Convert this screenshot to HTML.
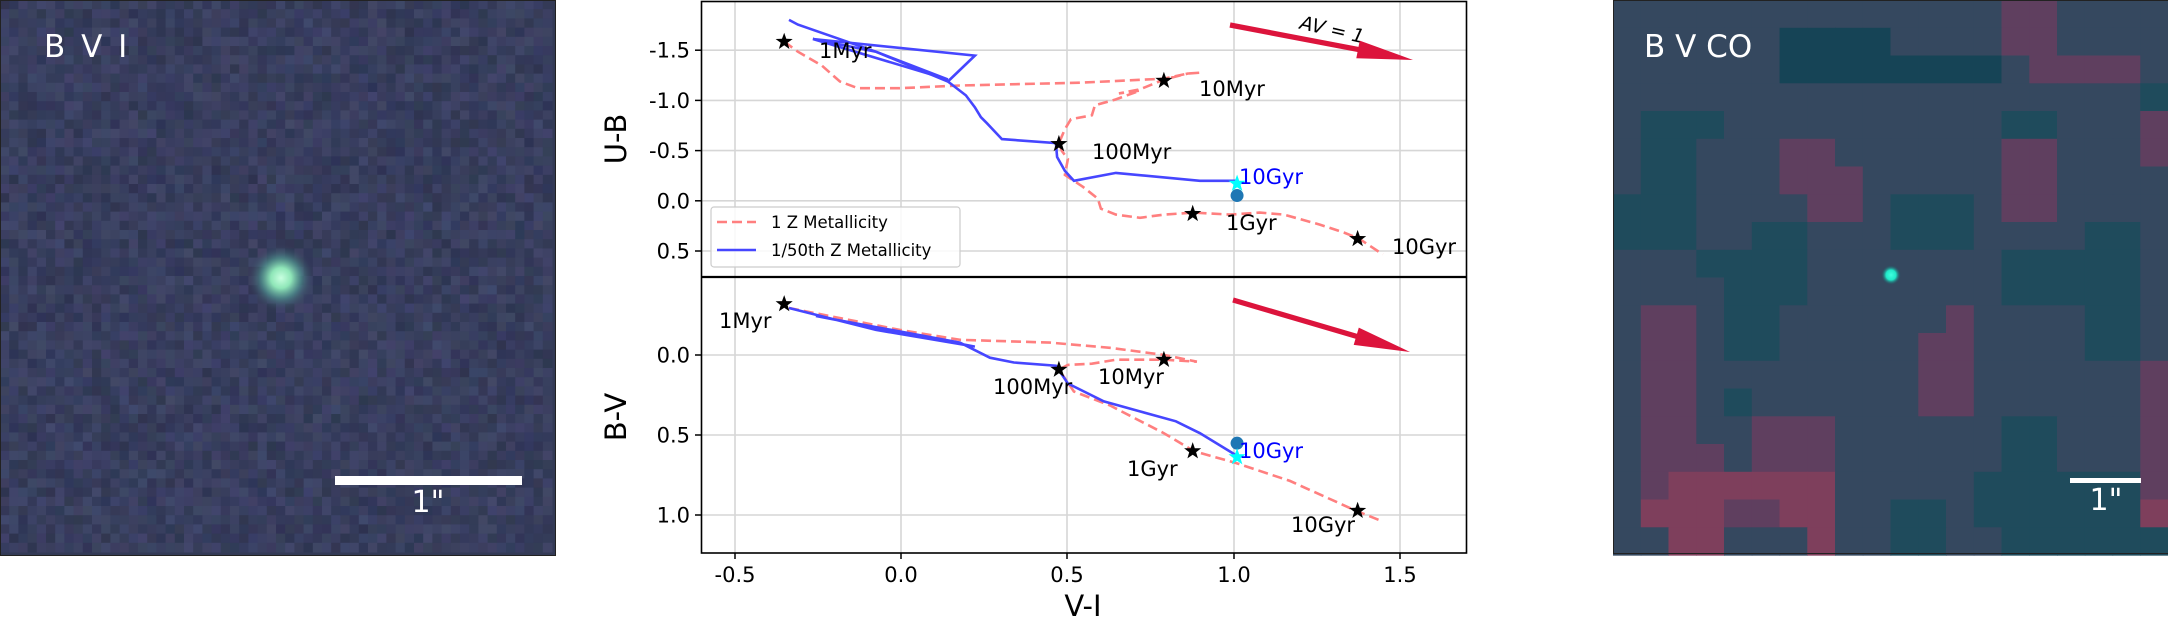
<!DOCTYPE html>
<html><head><meta charset="utf-8"><style>
html,body{margin:0;padding:0;background:#fff;}
svg{display:block;font-family:"DejaVu Sans","Liberation Sans",sans-serif;}
</style></head><body>
<svg id="s" width="2168" height="623" viewBox="0 0 2168 623" xmlns="http://www.w3.org/2000/svg">
<defs>
<radialGradient id="src" cx="0.5" cy="0.5" r="0.5">
<stop offset="0" stop-color="#c8ffe0"/><stop offset="0.3" stop-color="#8fe6b8"/><stop offset="0.6" stop-color="#4d8a8a" stop-opacity="0.8"/><stop offset="1" stop-color="#343a58" stop-opacity="0"/>
</radialGradient>
<radialGradient id="src2" cx="0.5" cy="0.5" r="0.5">
<stop offset="0" stop-color="#40ffe0"/><stop offset="0.5" stop-color="#20e8c8"/><stop offset="1" stop-color="#1f4b5c" stop-opacity="0"/>
</radialGradient>
</defs>
<g id="left"></g>
<g id="right"></g>
<g id="chart"></g>
<text x="44" y="57" font-size="31" fill="#fff" font-family="DejaVu Sans,sans-serif" letter-spacing="3">B V I</text>
<rect x="335" y="476" width="187" height="9" fill="#fff"/>
<text x="428" y="512" font-size="30" fill="#fff" text-anchor="middle">1"</text>
<text x="1644" y="57" font-size="31" fill="#fff">B V CO</text>
<rect x="2070" y="478" width="71" height="5" fill="#fff"/>
<text x="2106" y="510" font-size="30" fill="#fff" text-anchor="middle">1"</text>
</svg>
<script>
(function(){
var NS="http://www.w3.org/2000/svg";
function el(p,t,a,txt){var e=document.createElementNS(NS,t);for(var k in a)e.setAttribute(k,a[k]);if(txt!=null)e.textContent=txt;p.appendChild(e);return e;}
// left image
var L=document.getElementById('left');
el(L,'rect',{x:0,y:0,width:556,height:556,fill:'#333a56'});
var seed=7;function rnd(){seed=(seed*16807)%2147483647;return seed/2147483647;}
var cs=9.2;
for(var i=0;i<60;i++)for(var j=0;j<60;j++){var v=rnd();var r=Math.round(44+v*18+rnd()*6),g=Math.round(50+v*16+rnd()*8),b=Math.round(78+v*22+rnd()*10);
el(L,'rect',{x:(i*cs).toFixed(1),y:(j*cs).toFixed(1),width:cs+0.5,height:cs+0.5,fill:'rgb('+r+','+g+','+b+')'});}
el(L,'circle',{cx:281,cy:278,r:34,fill:'url(#src)'});
el(L,'rect',{x:0.5,y:0.5,width:555,height:555,fill:'none',stroke:'#222',"stroke-width":1});
// right image
var R=document.getElementById('right');
var map=["MMMMMMMMMMMMMMRRMMMM","MMMMMMDDDDMMMMRRMMMM","MMMMMMDDDDDDDDMRRRRM","MMMMMMMMMMMMMMMMMMMT","MTTTMMMMMMMMMMTTMMMR","MTTMMMRRMMMMMMRRMMMR","MTTMMMRRRMMMMMRRMMMM","TTTMMMMRRMTTTMRRMMMM","TTTMMTTMMMTTTMMMMTTM","MMMTTTTMMMMMMMTTTTTM","MMMMTTTMMMMMMMTTTTTM","MRRMTTMMMMMMRMMMMTTM","MRRMTTMMMMMRRMMMMTTM","MRRMMMMMMMMRRMMMMMMR","MRRMTMMMMMMRRMMMMMMR","MRRMMRRRMMMMMMTTMMMR","MRRRMRRRMMMMMMTTMMMR","MRrrrrrrMMMMMTTTTTTR","MrrrRRrrMMTTMTTTTTTr","MMrrMMMrMMTTMMTTTTTT"];
var col={M:'#35485f',T:'#1f4b5c',D:'#164456',R:'#5f3f5f',r:'#7e3f5c'};
var x0=1613,cw=27.75;
for(var j=0;j<20;j++)for(var i=0;i<20;i++){el(R,'rect',{x:(x0+i*cw).toFixed(1),y:(j*cw).toFixed(1),width:cw+0.6,height:cw+0.6,fill:col[map[j][i]]});}
el(R,'circle',{cx:1891,cy:275,r:10,fill:'url(#src2)'});
el(R,'rect',{x:1613.5,y:0.5,width:560,height:553,fill:'none',stroke:'#222',"stroke-width":1});
// chart
var C=document.getElementById('chart');
el(C,'rect',{x:701,y:1,width:766,height:552,fill:'#fff'});
function X(zx){return 540+zx/1.667;}function Y(zy){return zy/2.516;}
var xs=[[-0.5,735],[0,901],[0.5,1067],[1,1234],[1.5,1400]];
xs.forEach(function(t){el(C,'line',{x1:t[1],y1:1,x2:t[1],y2:553,stroke:'#d6d6d6','stroke-width':1.6});
el(C,'line',{x1:t[1],y1:553,x2:t[1],y2:559,stroke:'#000','stroke-width':1.5});
el(C,'text',{x:t[1],y:582,'font-size':21,'text-anchor':'middle'},t[0].toFixed(1));});
var yt=[["-1.5",50.2],["-1.0",100.4],["-0.5",150.6],["0.0",200.8],["0.5",251]];
var yb=[["0.0",355],["0.5",435],["1.0",515]];
yt.concat(yb).forEach(function(t){el(C,'line',{x1:701,y1:t[1],x2:1467,y2:t[1],stroke:'#d6d6d6','stroke-width':1.6});
el(C,'line',{x1:695,y1:t[1],x2:701,y2:t[1],stroke:'#000','stroke-width':1.5});
el(C,'text',{x:690,y:t[1]+7.5,'font-size':21,'text-anchor':'end'},t[0]);});
function path(pts,attrs){var d=pts.map(function(p,i){return (i?'L':'M')+X(p[0]).toFixed(1)+' '+Y(p[1]).toFixed(1);}).join(' ');attrs.d=d;attrs.fill='none';el(C,'path',attrs);}
var red={stroke:'#ff7f7f','stroke-width':2.6,'stroke-dasharray':'10,5'};
var blue={stroke:'#4646ff','stroke-width':2.6};
// top red
path([[407,105],[430,130],[470,165],[500,205],[530,222],[600,222],[700,215],[900,208],[1040,198],[1080,185],[1100,183],[1080,185],[1040,200],[1000,225],[965,235],[1000,228],[960,250],[925,265],[920,290],[885,300],[875,325],[865,360],[870,380],[880,400],[875,440],[905,470],[930,500],[935,525],[960,540],[1000,548],[1040,540],[1090,535],[1150,540],[1200,535],[1240,540],[1300,565],[1340,585],[1365,600],[1405,640]],red);
// top blue
path([[415,50],[430,62],[560,130],[680,205]],blue);
path([[455,98],[560,130],[680,200],[455,98],[725,140],[680,205]],blue);
path([[680,205],[710,240],[725,270],[735,295],[745,310],[770,350],[860,360],[862,395],[875,430],[890,455],[960,435],[1100,455],[1160,455]],blue);
// bottom red
path([[415,775],[600,830],[700,855],[850,862],[950,875],[1040,893],[1095,910],[1040,905],[960,905],[920,915],[880,918],[865,930],[890,985],[950,1020],[1040,1090],[1090,1135],[1160,1165],[1250,1210],[1360,1285],[1405,1312]],red);
// bottom blue
path([[415,775],[560,830],[725,872],[460,795],[700,862],[750,900],[790,912],[860,920],[880,965],[940,1010],[1000,1035],[1060,1060],[1100,1090],[1160,1145]],blue);
function star(zx,zy,r,fill){var cx=X(zx),cy=Y(zy),pts=[];for(var k=0;k<10;k++){var a=-Math.PI/2+k*Math.PI/5,rr=k%2?r*0.4:r;pts.push((cx+rr*Math.cos(a)).toFixed(1)+','+(cy+rr*Math.sin(a)).toFixed(1));}el(C,'polygon',{points:pts.join(' '),fill:fill});}
[[407,105],[1040,203],[865,362],[1088,538],[1363,601],[407,765],[865,930],[1040,905],[1088,1135],[1363,1285]].forEach(function(p){star(p[0],p[1],9,'#000');});
el(C,'circle',{cx:X(1162),cy:Y(492),r:6.5,fill:'#1f77b4'});
star(1162,462,9,'#00ffff');
el(C,'circle',{cx:X(1162),cy:Y(1115),r:6.5,fill:'#1f77b4'});
star(1162,1150,9,'#00ffff');
// arrows
function arrow(x1,y1,x2,y2){var dx=x2-x1,dy=y2-y1,l=Math.hypot(dx,dy),ux=dx/l,uy=dy/l,nx=-uy,ny=ux,hl=56,hw=9,w=2.6;
var bx=x2-ux*hl,by=y2-uy*hl;
var p=[[x1+nx*w,y1+ny*w],[bx+nx*w,by+ny*w],[bx+nx*hw,by+ny*hw],[x2,y2],[bx-nx*hw,by-ny*hw],[bx-nx*w,by-ny*w],[x1-nx*w,y1-ny*w]];
el(C,'polygon',{points:p.map(function(q){return q[0].toFixed(1)+','+q[1].toFixed(1);}).join(' '),fill:'#dc143c'});}
arrow(1230,25,1413,60);
arrow(1233,300,1410,352);
el(C,'text',{x:1332,y:36,'font-size':19,'font-style':'italic','text-anchor':'middle',transform:'rotate(13 1332 30)'},'AV = 1');
// labels
function lab(x,y,t,c,fs){el(C,'text',{x:x,y:y,'font-size':fs||21,fill:c||'#000'},t);}
lab(819,58,'1Myr');lab(1199,96,'10Myr');lab(1092,159,'100Myr');lab(1239,184,'10Gyr','#0000ff');lab(1226,230,'1Gyr');lab(1392,254,'10Gyr');
lab(719,328,'1Myr');lab(993,394,'100Myr');lab(1098,384,'10Myr');lab(1239,458,'10Gyr','#0000ff');lab(1127,476,'1Gyr');lab(1291,532,'10Gyr');
// legend
el(C,'rect',{x:711,y:207,width:249,height:60,rx:3,fill:'#fff','fill-opacity':0.85,stroke:'#ccc','stroke-width':1.2});
el(C,'line',{x1:717,y1:222,x2:756,y2:222,stroke:'#ff7f7f','stroke-width':2.6,'stroke-dasharray':'10,5'});
el(C,'line',{x1:717,y1:250,x2:756,y2:250,stroke:'#4646ff','stroke-width':2.6});
lab(771,228,'1 Z Metallicity','#000',16.5);lab(771,256,'1/50th Z Metallicity','#000',16.5);
// frames
el(C,'rect',{x:701.5,y:1.5,width:765,height:551.5,fill:'none',stroke:'#000','stroke-width':1.6});
el(C,'line',{x1:701,y1:277,x2:1467,y2:277,stroke:'#000','stroke-width':2.2});
// axis labels
el(C,'text',{x:0,y:0,'font-size':29,'text-anchor':'middle',transform:'translate(626 139) rotate(-90)'},'U-B');
el(C,'text',{x:0,y:0,'font-size':29,'text-anchor':'middle',transform:'translate(626 417) rotate(-90)'},'B-V');
el(C,'text',{x:1083,y:616,'font-size':29,'text-anchor':'middle'},'V-I');
})();
</script>
</body></html>
